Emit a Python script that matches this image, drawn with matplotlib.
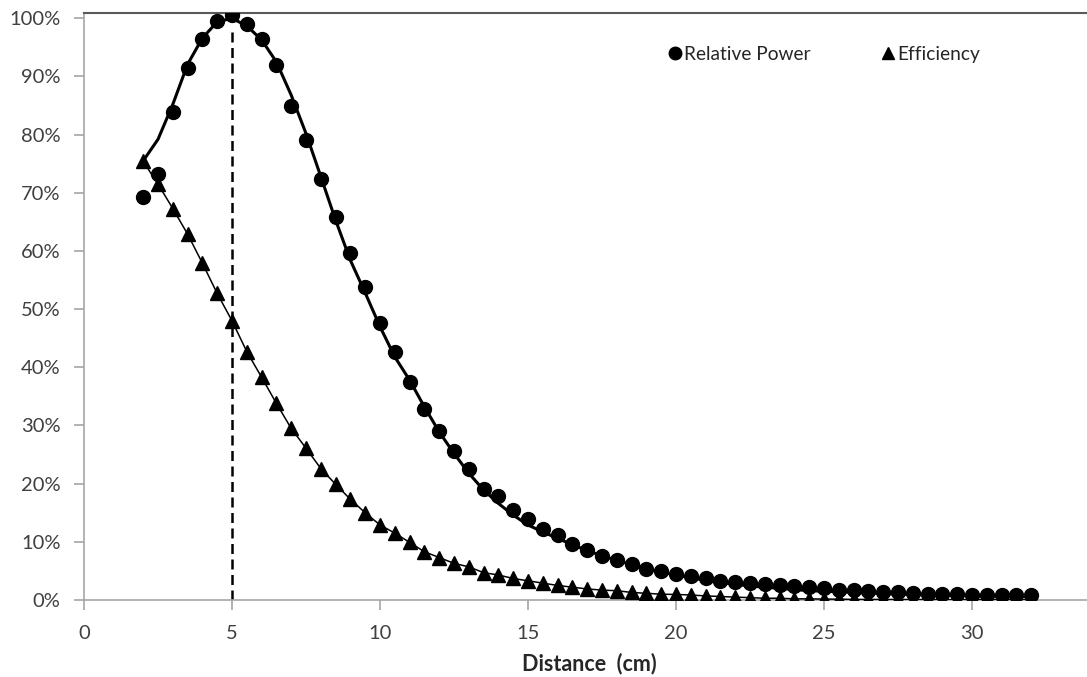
"""Relative power and efficiency vs. coil distance."""
import matplotlib.pyplot as plt
from matplotlib.ticker import PercentFormatter

plt.rcParams["font.family"] = ["Lato", "DejaVu Sans"]

distance = [2 + 0.5 * i for i in range(61)]  # 2.0 .. 32.0 cm

# measured points (fraction of max)
power_pts = [
    0.692, 0.732, 0.839, 0.915, 0.964, 0.995, 1.006, 0.990, 0.964, 0.919,
    0.850, 0.790, 0.724, 0.659, 0.596, 0.538, 0.477, 0.426, 0.375, 0.328,
    0.291, 0.256, 0.226, 0.191, 0.178, 0.155, 0.140, 0.122, 0.111, 0.097,
    0.086, 0.076, 0.069, 0.062, 0.054, 0.049, 0.045, 0.041, 0.037, 0.033,
    0.031, 0.029, 0.027, 0.026, 0.024, 0.022, 0.020, 0.018, 0.017, 0.016,
    0.014, 0.013, 0.012, 0.011, 0.011, 0.010, 0.009, 0.009, 0.008, 0.008,
    0.008,
]
eff_pts = [
    0.754, 0.715, 0.673, 0.629, 0.579, 0.527, 0.480, 0.427, 0.383, 0.338,
    0.295, 0.261, 0.226, 0.199, 0.173, 0.150, 0.129, 0.115, 0.099, 0.083,
    0.073, 0.063, 0.057, 0.047, 0.043, 0.037, 0.033, 0.029, 0.025, 0.022,
    0.019, 0.017, 0.016, 0.013, 0.0115, 0.010, 0.0095, 0.0086, 0.007, 0.006,
    0.005, 0.004, 0.003, 0.003, 0.002, 0.002, 0.0015, 0.0015, 0.001, 0.001,
    0.001, 0.001, 0.0008, 0.0008, 0.0006, 0.0006, 0.0005, 0.0005, 0.0004, 0.0004,
    0.0004,
]

# model curve for power (solid line)
power_fit = [
    0.755, 0.792, 0.852, 0.921, 0.966, 0.994, 1.000, 0.987, 0.963, 0.925,
    0.868, 0.802, 0.728, 0.653, 0.584, 0.528, 0.470, 0.418, 0.378, 0.332,
    0.289, 0.252, 0.218, 0.189, 0.166, 0.146, 0.129, 0.117, 0.106, 0.095,
    0.085, 0.076, 0.068, 0.061, 0.054, 0.048, 0.043, 0.038, 0.034, 0.030,
    0.027, 0.024, 0.022, 0.020, 0.018, 0.016, 0.015, 0.014, 0.013, 0.012,
    0.011, 0.010, 0.0095, 0.009, 0.0085, 0.008, 0.0075, 0.007, 0.0068, 0.0065,
    0.006,
]

peak_x = 5

fig = plt.figure(figsize=(10.87, 6.77), dpi=100)
ax = fig.add_axes([84 / 1087, 77 / 677, 1036 / 1087, 587.5 / 677])

ax.plot(distance, power_fit, color="black", linewidth=2.2, zorder=3,
        solid_joinstyle="round")
ax.plot(distance, eff_pts, color="black", linewidth=1.1, zorder=3)
ax.plot(distance, power_pts, "o", color="black", markersize=10,
        linestyle="none", label="Relative Power", zorder=4)
ax.plot(distance, eff_pts, "^", color="black", markersize=10,
        linestyle="none", label="Efficiency", zorder=4)
ax.plot([peak_x, peak_x], [0, 0.98], color="black", linewidth=1.8,
        linestyle=(0, (4, 2.2)), zorder=2)

ax.set_xlim(0, 35)
ax.set_ylim(0, 1.01)
ax.set_xticks(range(0, 35, 5))
ax.set_yticks([i / 10 for i in range(11)])
ax.yaxis.set_major_formatter(PercentFormatter(1.0, decimals=0))

for side in ("left", "bottom"):
    ax.spines[side].set_color("#a6a6a6")
    ax.spines[side].set_linewidth(1.2)
ax.spines["top"].set_color("#595959")
ax.spines["top"].set_linewidth(1.5)
ax.spines["right"].set_visible(False)
ax.tick_params(axis="both", colors="#a6a6a6", length=7, width=1.2,
               labelcolor="#404040", labelsize=14.5)
ax.tick_params(axis="y", pad=10)
ax.tick_params(axis="x", pad=11)

ax.set_xlabel("Distance  (cm)", fontsize=15.5, fontweight="bold",
              color="#262626")
ax.xaxis.set_label_coords(505 / 1036, -53 / 587.5)

ax.legend(loc="upper left", bbox_to_anchor=(564 / 1036, 0.973), ncol=2,
          frameon=False, fontsize=13.8, handletextpad=0.0,
          columnspacing=3.5, markerscale=0.9, handlelength=1.0,
          labelcolor="#262626")

fig.savefig("out.png", dpi=100)
